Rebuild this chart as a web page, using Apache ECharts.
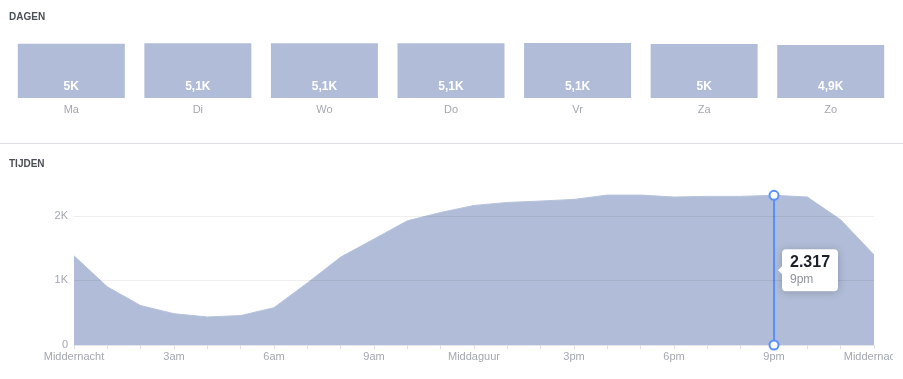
<!DOCTYPE html>
<html>
<head>
<meta charset="utf-8">
<script src="https://cdn.jsdelivr.net/npm/echarts@6/dist/echarts.min.js"></script>
<style>
html,body{margin:0;padding:0;background:#fff;}
#wrap{position:relative;width:903px;height:379px;overflow:hidden;}
#chart{position:absolute;left:0;top:0;width:893px;height:379px;}
#sep{position:absolute;left:0;top:143px;width:903px;height:1px;background:#dddfe2;}
</style>
</head>
<body>
<div id="wrap"><div id="chart"></div><div id="sep"></div></div>
<script>
const dayLabels = ['Ma', 'Di', 'Wo', 'Do', 'Vr', 'Za', 'Zo'];
const dayValues = [5040, 5080, 5080, 5080, 5090, 5010, 4920];

const hourLabels = ['Middernacht', '1am', '2am', '3am', '4am', '5am', '6am', '7am', '8am', '9am', '10am', '11am',
  'Middaguur', '1pm', '2pm', '3pm', '4pm', '5pm', '6pm', '7pm', '8pm', '9pm', '10pm', '11pm', 'Middernacht'];
const hourValues = [1380, 900, 610, 485, 434, 455, 578, 960, 1360, 1640, 1922, 2051,
  2160, 2206, 2228, 2253, 2320, 2320, 2290, 2300, 2300, 2317, 2290, 1938, 1395];
const yTicks = [0, 1000, 2000];
const highlightIndex = 21;

const AREA = '#b1bdd8';
const GRAY = '#a4a8b0';
const FONT = 'Liberation Sans, Arial, sans-serif';

function fmtK(v) {
  if (v === 0) return '0';
  let s = (v / 1000).toFixed(1);
  if (s.endsWith('.0')) s = s.slice(0, -2);
  return s.replace('.', ',') + 'K';
}
function fmtThousands(v) {
  return String(Math.round(v)).replace(/\B(?=(\d{3})+(?!\d))/g, '.');
}

const chart = echarts.init(document.getElementById('chart'), null, {renderer: 'canvas'});
chart.setOption({
  animation: false,
  backgroundColor: '#fff',
  title: [
    {text: 'DAGEN', left: 9, top: 12, padding: 0,
     textStyle: {fontSize: 10, fontWeight: 'bold', color: '#4b4f56', fontFamily: FONT}},
    {text: 'TIJDEN', left: 9, top: 159, padding: 0,
     textStyle: {fontSize: 10, fontWeight: 'bold', color: '#4b4f56', fontFamily: FONT}}
  ],
  grid: [
    {left: 8, width: 886, top: 43, height: 55, containLabel: false, outerBoundsMode: 'none'},
    {left: 74, right: 19, top: 177, bottom: 34, containLabel: false, outerBoundsMode: 'none'}
  ],
  xAxis: [
    {gridIndex: 0, type: 'category', data: dayLabels,
     axisLine: {show: false}, axisTick: {show: false},
     axisLabel: {margin: 6, color: GRAY, fontSize: 11, fontFamily: FONT}},
    {gridIndex: 1, type: 'category', data: hourLabels, boundaryGap: false,
     axisLine: {show: true, lineStyle: {color: '#e3e5e8', width: 1}},
     axisTick: {show: true, interval: 0, length: 4, lineStyle: {color: '#dddfe2'}},
     axisLabel: {interval: 2, margin: 6, color: GRAY, fontSize: 11, fontFamily: FONT, hideOverlap: false},
     splitLine: {show: false}}
  ],
  yAxis: [
    {gridIndex: 0, type: 'value', min: 0, max: 5100, show: false},
    {gridIndex: 1, type: 'value', min: 0, max: 2600, interval: 1000, z: 10,
     axisLine: {show: false}, axisTick: {show: false},
     axisLabel: {margin: 6, color: GRAY, fontSize: 11, showMaxLabel: false, fontFamily: FONT,
       formatter: v => (yTicks.indexOf(v) >= 0 ? fmtK(v) : '')},
     splitLine: {show: true, showMaxLine: false, showMinLine: false, lineStyle: {color: 'rgba(0,0,0,0.065)', width: 1}}}
  ],
  series: [
    {type: 'bar', xAxisIndex: 0, yAxisIndex: 0, data: dayValues, barWidth: 107,
     itemStyle: {color: AREA},
     label: {show: true, position: 'insideBottom', distance: 5, color: '#fff', fontSize: 12,
       fontWeight: 'bold', fontFamily: FONT,
       formatter: p => fmtK(p.value)}},
    {type: 'line', xAxisIndex: 1, yAxisIndex: 1, data: hourValues, symbol: 'none', smooth: false,
     lineStyle: {color: '#b7c2dc', width: 1},
     areaStyle: {color: AREA, opacity: 1},
     markLine: {silent: true, symbol: 'none', label: {show: false},
       lineStyle: {color: '#5890ff', width: 2, type: 'solid'},
       data: [[{coord: [highlightIndex, hourValues[highlightIndex]]}, {coord: [highlightIndex, 0]}]]},
     markPoint: {silent: true, symbol: 'circle', symbolSize: 9, label: {show: false},
       itemStyle: {color: '#fff', borderColor: '#5890ff', borderWidth: 2},
       data: [{coord: [highlightIndex, hourValues[highlightIndex]]}, {coord: [highlightIndex, 0]}]}}
  ]
});

const pTop = chart.convertToPixel({xAxisIndex: 1, yAxisIndex: 1}, [highlightIndex, hourValues[highlightIndex]]);
const pBot = chart.convertToPixel({xAxisIndex: 1, yAxisIndex: 1}, [highlightIndex, 0]);
const midY = (pTop[1] + pBot[1]) / 2;
const bx = pTop[0] + 8, bw = 56, bh = 42, by = midY - bh / 2;
chart.setOption({
  graphic: {elements: [
    {id: 'tipbox', type: 'rect', z: 100, shape: {x: bx, y: by, width: bw, height: bh, r: 4},
     style: {fill: '#fff', shadowBlur: 8, shadowColor: 'rgba(0,0,0,0.22)', shadowOffsetY: 1}},
    {id: 'tiparrow', type: 'polygon', z: 101, shape: {points: [[bx + 1, midY - 5], [bx - 4, midY], [bx + 1, midY + 5]]},
     style: {fill: '#fff'}},
    {id: 'tipval', type: 'text', z: 102, x: bx + 8, y: by + 5,
     style: {text: fmtThousands(hourValues[highlightIndex]), fill: '#1d2129', fontSize: 16, fontWeight: 'bold', fontFamily: FONT}},
    {id: 'tiplab', type: 'text', z: 102, x: bx + 8, y: by + 25,
     style: {text: hourLabels[highlightIndex], fill: '#90949c', fontSize: 12, fontFamily: FONT}}
  ]}
});
</script>
</body>
</html>
